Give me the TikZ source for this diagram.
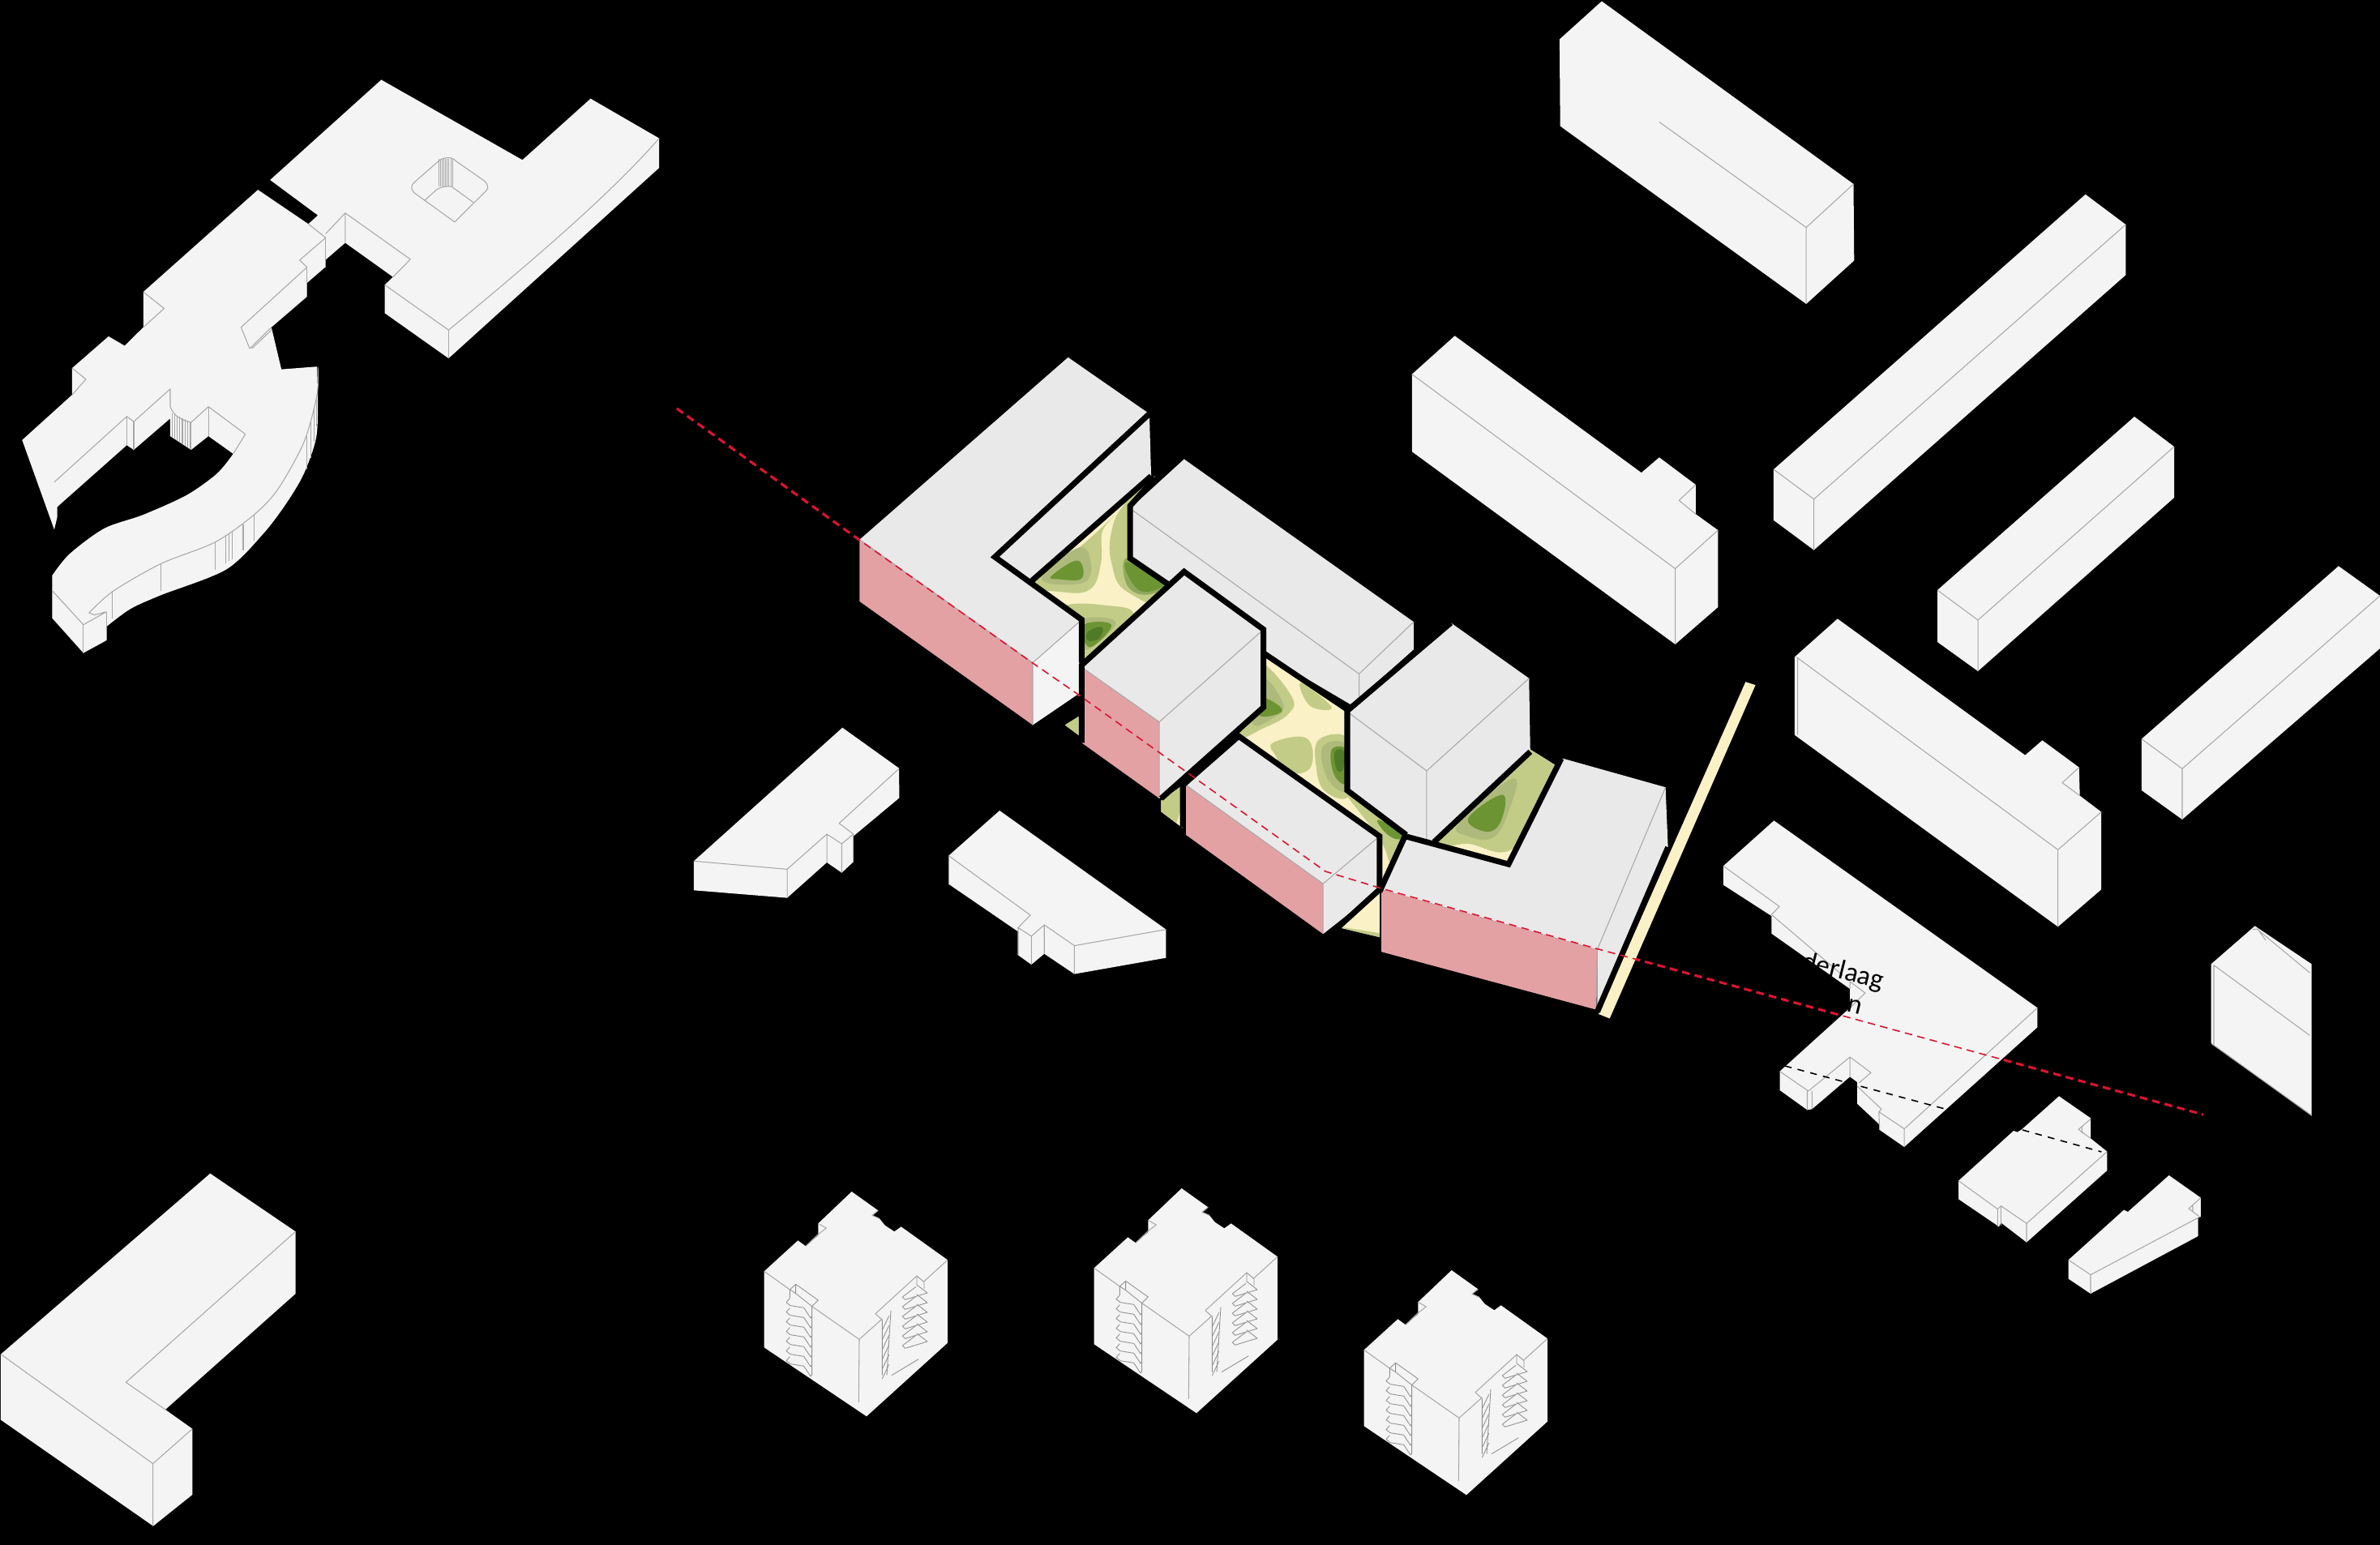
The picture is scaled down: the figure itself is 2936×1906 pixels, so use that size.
\documentclass[tikz,border=0pt]{standalone}
\usepackage{fontspec}
\newfontfamily\labelfont{Carlito}
\definecolor{mass}{HTML}{F4F4F4}
\definecolor{core}{HTML}{E9E9E9}
\definecolor{plinth}{HTML}{E3A1A4}
\definecolor{sand}{HTML}{FAF1C6}
\definecolor{gone}{HTML}{C3CC87}
\definecolor{gtwo}{HTML}{AEBA7B}
\definecolor{gthree}{HTML}{8FA95C}
\definecolor{gfour}{HTML}{6C9433}
\definecolor{gfive}{HTML}{4F7A28}
\definecolor{edgegray}{HTML}{A8A8A8}
\definecolor{stairgray}{HTML}{929292}
\definecolor{sectionred}{HTML}{DA1430}
\tikzset{
  crop/.style n args={4}{shift={(#1,#2)},xscale=#3,yscale=#4},
  zmid/.style={crop={1000}{420}{.7653}{.5485}},
  zflat/.style={crop={2050}{980}{.4464}{.3333}},
  zleft/.style={crop={0}{80}{.5357}{.4847}},
  ztower/.style={crop={920}{1450}{.3333}{.3333}},
  ztop/.style={crop={1700}{0}{.7883}{.5102}},
  zright/.style={crop={2180}{680}{.4821}{.3333}},
  zsmall/.style={crop={2360}{1120}{.3333}{.3333}},
  zcorner/.style={crop={0}{1420}{.3333}{.3333}},
  zlow/.style={crop={820}{880}{.4082}{.3333}},
  block/.style={fill=mass},
  coreblock/.style={fill=core},
  pinkwall/.style={fill=plinth},
  edge/.style={draw=edgegray, line width=.3pt, line join=round},
  stair/.style={draw=stairgray, line width=.25pt, line join=round},
  heavy/.style={draw=black, line width=2pt, line join=miter},
  cutred/.style={draw=sectionred, dash pattern=on 2.7pt off 1.8pt},
  cutblack/.style={draw=black, line width=.45pt, dash pattern=on 2.4pt off 2.2pt},
  blob/.style={smooth cycle, tension=.7},
}
\begin{document}
\begin{tikzpicture}[x=.01cm, y=-.01cm]
  \fill[black] (0,0) rectangle (2936,1906);
  \useasboundingbox (0,0) rectangle (2936,1906);
  % section line, heavy part below the blocks
  \draw[cutred, line width=.9pt] (835,504) -- (1060,666) -- (1274,818) -- (1329,856) -- (1635,1075) -- (1704,1096) -- (1972,1171) -- (2050,1192) -- (2718,1375);

  % left complex
  \begin{scope}[zleft]
    \fill[block] (878,38) -- (1203,242) -- (1360,86) -- (1518,187) -- (1518,262) -- (1033,747) -- (886,632) -- (886,560) -- (905,540) -- (795,453) -- (749,497) -- (749,515) -- (707,555) -- (707,590) -- (625,668) -- (648,775) -- plot[smooth] coordinates {(730,768) (732,860) (728,950) (700,1040) (660,1115) (605,1195) (520,1285) (370,1350) (300,1385) (245,1430)} -- (245,1465) -- (192,1497) -- (120,1408) -- plot[smooth] coordinates {(120,1300) (160,1245) (240,1180) (330,1145) (430,1095) (500,1040) (537,990)} -- (480,945) -- (440,980) -- (392,945) -- (392,900) -- (308,980) -- (292,968) -- (132,1125) -- (132,1150) -- (125,1183) -- (51,955) -- (166,840) -- (166,772) -- (250,691) -- (287,715) -- (330,668) -- (330,578) -- (594,318) -- (710,405) -- (732,383) -- (622,293) -- cycle;
    \draw[edge] (886,560) -- (1033,675) .. controls (1280,450) and (1420,310) .. (1518,187);
    \draw[edge] (1033,675) -- (1033,747);
    \draw[edge] (905,540) -- (945,495) -- (795,377) -- (750,430) (795,377) -- (795,453);
    \draw[edge] (710,405) -- (750,440) -- (690,497) -- (707,515) -- (555,668) -- (575,722) -- (625,668) (580,722) -- (625,675);
    \draw[edge] (749,440) -- (749,515) (707,515) -- (707,590);
    \draw[edge] (330,578) -- (378,620) -- (330,668) (166,772) -- (198,800) -- (166,840);
    \draw[edge] (125,1062) -- (292,895) -- (308,908) -- (392,825) -- (392,870) .. controls (400,895) and (420,905) .. (440,910) -- (480,870) -- (565,940) -- (537,990);
    \draw[edge] (292,895) -- (292,968) (308,908) -- (308,980) (480,870) -- (480,945) (440,910) -- (440,980);
    \foreach \hx in {396,402,...,438} {\draw[edge] (\hx,{885+(\hx-392)*.5}) -- (\hx,{945+(\hx-392)*.7});}
    \draw[edge] plot[smooth] coordinates {(732,770) (730,840) (700,960) (640,1080) (585,1145) (495,1215) (370,1270) (260,1340) (205,1395)} -- (218,1400) -- (245,1392) -- (192,1425) -- (120,1338);
    \draw[edge] (192,1425) -- (192,1497) (245,1392) -- (245,1465);
    \foreach \hx/\ha/\hb in {258/1340/1410,370/1270/1340,495/1215/1285,520/1197/1268,528/1192/1262,535/1188/1258,560/1170/1235,585/1145/1212,707/945/1030,716/910/1000,724/870/960,729/840/920} {\draw[edge] (\hx,\ha) -- (\hx,\hb);}
    % courtyard
    \draw[edge] (1010,245) .. controls (1020,235) and (1040,232) .. (1050,245) -- (1115,295) .. controls (1125,305) and (1125,315) .. (1120,320) -- (1047,400) -- (953,325) .. controls (945,315) and (947,305) .. (955,298) -- cycle;
    \draw[edge] (978,345) -- (1005,318) .. controls (1015,310) and (1030,308) .. (1040,310) -- (1090,350);
    \foreach \hx in {1010,1014,...,1042} {\draw[edge] (\hx,240) -- (\hx,310);}
  \end{scope}

  % central garden
  \begin{scope}[zmid]
    \begin{scope}
      \clip (555,305) -- (515,375) -- (515,490) -- (580,550) -- (437,725) -- (437,628) -- (357,540) -- cycle
        (732,705) -- (865,830) -- (865,1012) -- (960,1112) -- (917,1235) -- (917,1115) -- (690,885) -- (732,825) -- cycle
        (1160,920) -- (1200,955) -- (1125,1178) -- (1005,1128) -- cycle
        (433,845) -- (410,865) -- (437,893) -- cycle
        (600,1000) -- (565,1035) -- (565,1060) -- (600,1097) -- cycle
        (917,1235) -- (850,1320) -- (917,1342) -- cycle;
      \fill[sand] (300,250) rectangle (1250,1400);
      % upper patch
      \fill[gone] plot[blob] coordinates {(345,545) (420,480) (490,395) (470,430) (468,500) (450,560) (400,565)};
      \fill[gtwo] plot[blob] coordinates {(372,535) (435,465) (452,520) (430,548)};
      \fill[gfour] plot[blob] coordinates {(388,530) (430,495) (437,535) (400,537)};
      \fill[gone] plot[blob] coordinates {(560,300) (505,370) (485,430) (485,500) (510,565) (590,590) (590,400)};
      \fill[gthree] plot[blob] coordinates {(508,490) (550,525) (575,550) (540,572) (510,550)};
      \fill[gfour] plot[blob] coordinates {(510,498) (550,530) (570,550) (535,565) (512,530)};
      \fill[gone] plot[blob] coordinates {(405,600) (470,595) (520,622) (437,725) (425,650)};
      \fill[gtwo] plot[blob] coordinates {(437,630) (490,630) (472,670) (437,695)};
      \fill[gfour] plot[blob] coordinates {(440,640) (485,640) (450,690)};
      \fill[gfive] plot[blob] coordinates {(447,655) (470,645) (465,670) (447,675)};
      % middle patch
      \fill[gone] plot[blob] coordinates {(725,725) (775,800) (770,840) (730,872) (690,890) (715,800)};
      \fill[gtwo] plot[blob] coordinates {(728,760) (762,820) (745,850) (712,860)};
      \fill[gfour] plot[blob] coordinates {(730,805) (760,830) (740,845) (722,840)};
      \fill[gone] plot[blob] coordinates {(790,770) (840,825) (805,822)};
      \fill[gone] plot[blob] coordinates {(745,905) (800,895) (806,960) (770,972) (750,935)};
      \fill[gone] plot[blob] coordinates {(820,897) (870,900) (870,1020) (830,1015) (815,960)};
      \fill[gtwo] plot[blob] coordinates {(825,915) (865,912) (868,1010) (835,990)};
      \fill[gfour] plot[blob] coordinates {(840,920) (868,925) (868,995) (845,980)};
      \fill[gfive] plot[blob] coordinates {(845,925) (860,925) (858,965) (848,965)};
      \fill[gone] plot[blob] coordinates {(862,1015) (917,1060) (965,1125) (940,1185) (917,1120)};
      \fill[gfour] plot[blob] coordinates {(915,1078) (958,1112) (945,1122) (925,1105)};
      % right patch
      \fill[gone] plot[blob] coordinates {(1150,940) (1195,985) (1135,1140) (1060,1132) (1010,1125)};
      \fill[gtwo] plot[blob] coordinates {(1045,1085) (1132,985) (1125,1060) (1100,1118) (1060,1115)};
      \fill[gfour] plot[blob] coordinates {(1060,1075) (1115,1022) (1113,1080) (1090,1105)};
      \fill[gone] plot[blob] coordinates {(1165,915) (1210,955) (1190,985) (1160,950)};
      % small pieces
      \fill[gone] (433,845) -- (410,865) -- (437,893) -- cycle;
      \fill[gone] (600,1000) -- (560,1035) -- (565,1060) -- (590,1085) -- (600,1040) -- cycle;
      \fill[gone] (850,1318) -- (917,1333) -- (917,1345) -- cycle;
    \end{scope}

    % footpath
    \fill[sand] (1507,768) -- (1523,775) -- (1288,1525) -- (1270,1515) -- cycle;

    % long block
    \fill[coreblock] (602,267) -- (972,633) -- (972,695) -- (884,805) -- (884,830) -- (732,705) -- (578,550) -- (515,490) -- (515,378) -- cycle;
    \draw[edge] (515,378) -- (884,750) -- (972,633) (884,750) -- (884,830);
    \draw[heavy] (555,310) -- (515,372) -- (515,490) -- (578,550);
    % corner block
    \fill[coreblock] (415,38) -- (546,165) -- (549,310) -- (357,540) -- (437,628) -- (358,725) -- (79,448) -- cycle;
    \fill[block] (437,628) -- (437,790) -- (358,865) -- (358,725) -- cycle;
    \fill[pinkwall] (79,448) -- (358,725) -- (358,865) -- (79,587) -- cycle;
    \draw[edge] (79,448) -- (358,725) -- (437,628) (358,725) -- (358,865);
    \draw[heavy] (546,165) -- (297,487) -- (437,628) -- (437,725) (549,305) -- (357,540);
    % tower in the garden, right
    \fill[coreblock] (1032,635) -- (1158,760) -- (1160,920) -- (1005,1125) -- (993,1125) -- (960,1112) -- (865,1012) -- (865,835) -- cycle;
    \draw[edge] (865,835) -- (993,968) -- (1158,760) (993,968) -- (993,1125);
    \draw[heavy] (1032,635) -- (865,833) -- (865,1012) -- (960,1112) (1160,925) -- (1005,1128);
    \draw[heavy] (732,705) -- (865,830);
    % tower in the garden, left
    \fill[coreblock] (602,520) -- (730,650) -- (730,825) -- (562,1030) -- (562,858) -- (437,735) -- cycle;
    \fill[pinkwall] (437,735) -- (562,858) -- (562,1030) -- (437,905) -- cycle;
    \draw[edge] (437,735) -- (562,858) -- (730,650) (562,858) -- (562,1030);
    \draw[heavy] (437,905) -- (437,730) -- (602,520) -- (730,650) -- (730,825) -- (565,1030);
    % low block
    \fill[coreblock] (690,890) -- (917,1115) -- (917,1235) -- (826,1335) -- (826,1222) -- (605,1000) -- cycle;
    \fill[pinkwall] (605,1000) -- (826,1222) -- (826,1335) -- (605,1112) -- cycle;
    \draw[edge] (605,1000) -- (826,1222) -- (917,1115) (826,1222) -- (826,1335);
    \draw[heavy] (600,1095) -- (600,1000) -- (690,890) -- (917,1115) -- (917,1235) -- (850,1320);
    % end block
    \fill[coreblock] (1212,940) -- (1378,1005) -- (1382,1140) -- (1268,1505) -- (1268,1370) -- (920,1235) -- (958,1115) -- (1125,1178) -- cycle;
    \fill[pinkwall] (920,1235) -- (1268,1370) -- (1266,1505) -- (920,1375) -- cycle;
    \draw[edge] (1378,1005) -- (1268,1370) -- (1266,1505);
    \draw[heavy] (917,1240) -- (958,1115) -- (1125,1178) -- (1210,940) (1382,1140) -- (1268,1510);
  \end{scope}

  % blocks top right
  \begin{scope}[ztop]
    \fill[block] (350,3) -- (744,445) -- (745,630) -- (670,735) -- (285,305) -- (284,95) -- cycle;
    \draw[edge] (440,295) -- (670,550) -- (744,445) (670,550) -- (670,735);
    \fill[block] (1107,470) -- (1170,543) -- (1170,665) -- (682,1330) -- (619,1258) -- (619,1135) -- cycle;
    \draw[edge] (619,1135) -- (682,1207) -- (1170,543) (682,1207) -- (682,1330);
    \fill[block] (120,812) -- (412,1143) -- (440,1106) -- (497,1172) -- (497,1243) -- (532,1282) -- (532,1468) -- (465,1558) -- (53,1092) -- (53,905) -- cycle;
    \draw[edge] (53,905) -- (465,1375) -- (532,1282) (465,1375) -- (465,1558) (497,1172) -- (471,1210) -- (497,1243);
  \end{scope}
  \fill[block] (2633,514) -- (2682,551) -- (2682,614) -- (2440,828) -- (2390,792) -- (2390,728) -- cycle;
  \draw[edge] (2390,728) -- (2440,765) -- (2682,551) (2440,765) -- (2440,828);

  % blocks on the right
  \begin{scope}[zright]
    \fill[block] (1462,55) -- (1568,165) -- (1568,360) -- (1062,993) -- (958,885) -- (958,695) -- cycle;
    \draw[edge] (958,695) -- (1062,805) -- (1568,165) (1062,805) -- (1062,993);
    \fill[block] (180,250) -- (660,755) -- (704,700) -- (798,800) -- (800,905) -- (855,965) -- (855,1252) -- (744,1390) -- (70,680) -- (70,392) -- cycle;
    \draw[edge] (75,392) -- (744,1105) -- (855,965) (744,1105) -- (744,1390) (798,800) -- (755,857) -- (800,905) (78,395) -- (78,680);
  \end{scope}

  % flat block with the lettering
  \begin{scope}[zflat]
    \fill[block] (310,97) -- (1038,790) -- (1038,862) -- (670,1305) -- (602,1242) -- (600,1220) -- (540,1145) -- (540,1065) -- (520,1045) -- (415,1165) -- (402,1168) -- (326,1095) -- (326,1025) -- (520,790) -- (520,720) -- (303,515) -- (303,450) -- (170,335) -- (170,265) -- cycle;
    \draw[edge] (170,265) -- (325,415) -- (303,445) -- (500,670) (520,720) -- (520,693) -- (562,735) -- (520,790);
    \draw[edge] (326,1025) -- (405,1098) -- (520,972) -- (578,1030) -- (545,1068) (402,1098) -- (402,1168) (415,1098) -- (415,1165) (520,972) -- (520,1045);
    \draw[edge] (540,1080) -- (607,1165) -- (600,1175) -- (670,1238) -- (1038,790) (670,1238) -- (670,1305) (600,1175) -- (602,1242);
    \draw[cutblack] (340,1005) -- (785,1165);
    \node[font=\labelfont\fontsize{9.6pt}{10.5pt}\selectfont, text=black, rotate=-14, inner sep=0pt, align=right] (lbl) at (473,696) {nderlaag\\n\hspace*{1.8mm}};
  \end{scope}

  % small blocks lower right
  \begin{scope}[zsmall]
    \fill[block] (540,697) -- (657,778) -- (657,853) -- (718,902) -- (718,972) -- (420,1238) -- (325,1165) -- (318,1180) -- (168,1078) -- (168,1010) -- (372,825) -- (385,830) -- (400,822) -- cycle;
    \draw[edge] (168,1010) -- (313,1115) -- (325,1103) -- (420,1168) -- (718,902) (420,1168) -- (420,1238) (313,1115) -- (313,1180) (325,1103) -- (325,1175) (657,782) -- (612,820) -- (657,853) (625,810) -- (625,835);
    \draw[cutblack] (405,822) -- (697,903);
    \fill[block] (947,990) -- (1065,1073) -- (1065,1143) -- (1055,1147) -- (1055,1215) -- (657,1428) -- (575,1373) -- (575,1303) -- (780,1118) -- (795,1125) -- cycle;
    \draw[edge] (575,1303) -- (657,1358) -- (1055,1147) (657,1358) -- (657,1428) (1065,1073) -- (1020,1113) -- (1060,1143) (1035,1100) -- (1035,1125);
    \fill[block] (1265,67) -- (1475,208) -- (1475,770) -- (1103,500) -- (1103,208) -- cycle;
    \draw[edge] (1113,212) -- (1468,472) (1275,80) -- (1468,240) (1113,212) -- (1113,505) (1105,503) -- (1475,768) (1258,80) -- (1275,78) -- (1305,120);
  \end{scope}

  % corner block lower left
  \begin{scope}[zcorner]
    \fill[block] (778,83) -- (1094,298) -- (1094,528) -- (612,957) -- (712,1028) -- (712,1272) -- (567,1388) -- (3,995) -- (3,752) -- cycle;
    \draw[edge] (3,752) -- (566,1157) -- (710,1030) (566,1157) -- (566,1388) (1094,298) -- (466,856) -- (612,957);
  \end{scope}

  % two houses below the section line
  \begin{scope}[zlow]
    \fill[block] (537,53) -- (708,203) -- (709,313) -- (570,455) -- (570,550) -- (535,590) -- (490,552) -- (370,683) -- (88,655) -- (88,547) -- cycle;
    \draw[edge] (88,547) -- (370,577) -- (490,447) -- (535,483) -- (570,447) -- (527,407) -- (708,205) (370,577) -- (370,683) (490,447) -- (490,552) (535,483) -- (535,590) (570,447) -- (570,550);
    \fill[block] (1012,360) -- (1515,800) -- (1515,905) -- (1238,965) -- (1147,890) -- (1108,930) -- (1068,895) -- (1068,808) -- (858,632) -- (858,527) -- cycle;
    \draw[edge] (858,527) -- (1105,747) -- (1068,793) -- (1108,825) -- (1147,783) -- (1238,860) -- (1515,800) (1238,860) -- (1238,965) (1108,825) -- (1108,930) (1147,783) -- (1147,890) (1068,793) -- (1068,895);
  \end{scope}

  % three towers
  \foreach \dx/\dy in {0/0,407/-4,740/97} {
    \begin{scope}[shift={(\dx,\dy)}, ztower]
      \fill[block] (392,60) -- (490,130) -- (468,148) -- (495,160) -- (515,185) -- (550,208) -- (575,190) -- (747,313) -- (747,620) -- (447,892) -- (68,637) -- (68,355) -- (193,241) -- (222,262) -- (268,222) -- (268,178) -- cycle;
      \draw[edge] (68,355) -- (163,423) (245,485) -- (420,607) -- (505,531) (633,372) -- (480,512) -- (505,535) (660,392) -- (747,313) (420,607) -- (418,840);
      \draw[edge] (268,178) -- (298,195) -- (268,218) -- (222,262) (490,130) -- (468,148) -- (495,160);
      \draw[stair] (163,423) -- (185,403) -- (268,462) -- (245,485) -- (185,437) -- (163,423) -- (163,455) (185,403) -- (185,437) (245,485) -- (245,740);
      \foreach \k in {0,...,6} {
        \draw[stair] (163,{455+36*\k}) -- (150,{470+36*\k}) -- (165,{482+36*\k}) -- (215,{490+36*\k}) -- (240,{528+36*\k}) -- (245,{520+36*\k});
      }
      \draw[stair] (633,372) -- (660,395) -- (660,420) (633,372) -- (633,405);
      \foreach \k in {0,...,5} {
        \draw[stair] (633,{405+36*\k}) -- (672,{435+36*\k}) -- (590,{460+36*\k}) -- (580,{450+36*\k}) -- (630,{412+36*\k});
      }
      \draw[stair] (505,535) -- (505,740) (537,500) -- (522,740) (540,740) -- (640,680);
      \foreach \k in {0,...,5} {
        \draw[stair] (530,{520+36*\k}) -- (505,{573+36*\k});
      }
    \end{scope}
  }

  % section line, fine part above the blocks
  \draw[cutred, line width=.45pt] (835,504) -- (1060,666) -- (1274,818) -- (1329,856) -- (1635,1075) -- (1704,1096) -- (1972,1171) -- (2050,1192) -- (2718,1375);
\end{tikzpicture}
\end{document}
